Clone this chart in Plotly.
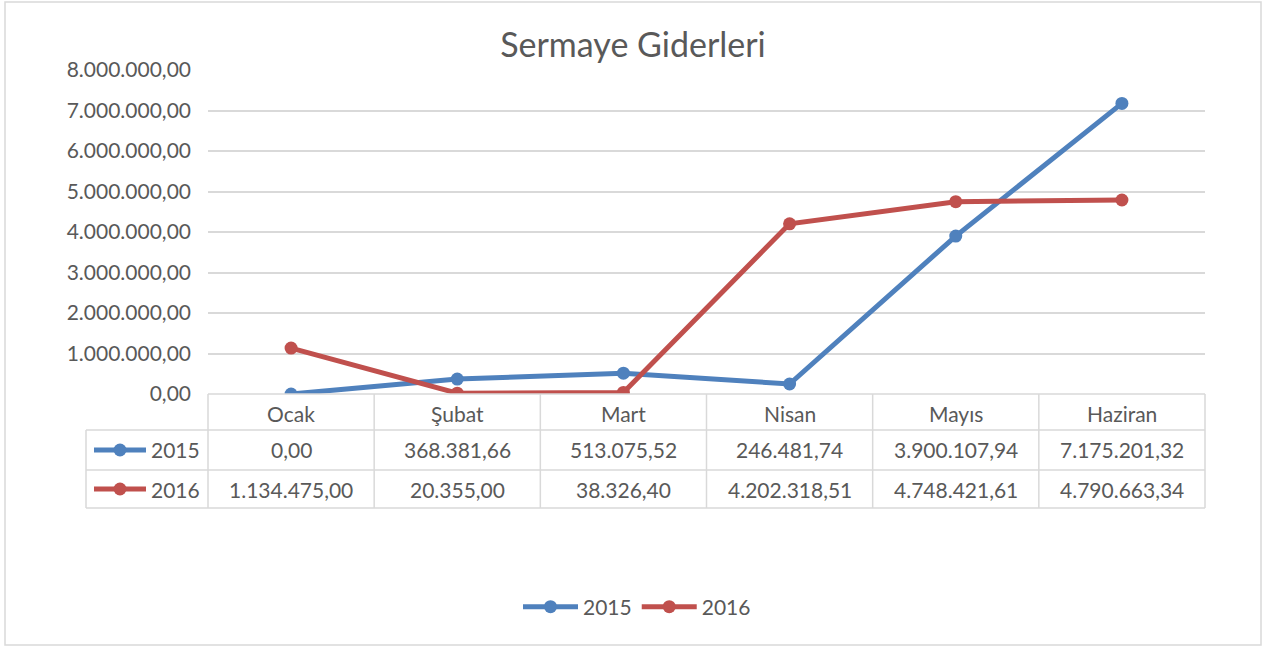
import plotly.graph_objects as go

months = ["Ocak", "Şubat", "Mart", "Nisan", "Mayıs", "Haziran"]
series_names = ["2015", "2016"]
values_2015 = [0.00, 368381.66, 513075.52, 246481.74, 3900107.94, 7175201.32]
values_2016 = [1134475.00, 20355.00, 38326.40, 4202318.51, 4748421.61, 4790663.34]
colors = ["#4F81BD", "#C0504D"]
y_ticks = [0, 1e6, 2e6, 3e6, 4e6, 5e6, 6e6, 7e6, 8e6]

W, H = 1274, 648
L, R, T, B = 208, 69, 70, 254
PW, PH = W - L - R, H - T - B
FONT = "Lato"
TXT = "#595959"
GRID = "#D9D9D9"
FS = 21


def fmt(v):
    s = f"{v:,.2f}"
    return s.replace(",", "X").replace(".", ",").replace("X", ".")


def px_x(px):
    return (px - L) / PW


def px_y(py):
    return (H - B - py) / PH


def cat_x(i):
    return (i + 0.5) / len(months)


fig = go.Figure()
for name, vals, c in zip(series_names, [values_2015, values_2016], colors):
    fig.add_trace(go.Scatter(x=months, y=vals, name=name, mode="lines+markers",
                             line=dict(color=c, width=5),
                             marker=dict(color=c, size=13)))

shapes = []
annotations = []
n = len(months)
hdr_top, r1_top, r2_top, r2_bot = 394, 430, 470, 508
left_px = 86
line_style = dict(color=GRID, width=1.5)
shapes.append(dict(type="line", xref="paper", yref="paper", x0=0, x1=1,
                   y0=px_y(hdr_top), y1=px_y(hdr_top), line=line_style))
for yy in [r1_top, r2_top, r2_bot]:
    shapes.append(dict(type="line", xref="paper", yref="paper", x0=px_x(left_px), x1=1,
                       y0=px_y(yy), y1=px_y(yy), line=line_style))
for i in range(n + 1):
    shapes.append(dict(type="line", xref="paper", yref="paper", x0=i / n, x1=i / n,
                       y0=px_y(hdr_top), y1=px_y(r2_bot), line=line_style))
shapes.append(dict(type="line", xref="paper", yref="paper", x0=px_x(left_px), x1=px_x(left_px),
                   y0=px_y(r1_top), y1=px_y(r2_bot), line=line_style))

for i, m in enumerate(months):
    annotations.append(dict(x=cat_x(i), y=px_y((hdr_top + r1_top) / 2 + 1), xref="paper", yref="paper",
                            xanchor="center", yanchor="middle",
                            text=m, showarrow=False, font=dict(family=FONT, size=FS, color=TXT)))
rows = [(r1_top, r2_top), (r2_top, r2_bot)]
for (top, bot), name, vals, c in zip(rows, series_names, [values_2015, values_2016], colors):
    yc = px_y((top + bot) / 2)
    for i, v in enumerate(vals):
        annotations.append(dict(x=cat_x(i), y=yc, xref="paper", yref="paper",
                                xanchor="center", yanchor="middle",
                                text=fmt(v), showarrow=False,
                                font=dict(family=FONT, size=FS, color=TXT)))
    annotations.append(dict(x=px_x(202), y=yc, xref="paper", yref="paper", xanchor="right",
                            yanchor="middle",
                            text=name, showarrow=False, font=dict(family=FONT, size=FS, color=TXT)))
    shapes.append(dict(type="line", xref="paper", yref="paper", x0=px_x(94), x1=px_x(146),
                       y0=yc, y1=yc, line=dict(color=c, width=5)))
    r = 6.5
    shapes.append(dict(type="circle", xref="paper", yref="paper",
                       x0=px_x(120 - r), x1=px_x(120 + r), y0=yc - r / PH, y1=yc + r / PH,
                       fillcolor=c, line=dict(color=c, width=0)))

shapes.append(dict(type="rect", xref="paper", yref="paper", x0=px_x(5), x1=px_x(1261),
                   y0=px_y(645), y1=px_y(2), line=dict(color=GRID, width=1.5), layer="below"))

fig.update_layout(
    width=W, height=H,
    margin=dict(l=L, r=R, t=T, b=B, autoexpand=False),
    paper_bgcolor="white", plot_bgcolor="white",
    separators=",.",
    title=dict(text="Sermaye Giderleri", x=633 / W, xanchor="center", y=1 - 45 / H, yanchor="middle",
               font=dict(family=FONT, size=34, color=TXT)),
    xaxis=dict(type="category", range=[-0.5, n - 0.5], showticklabels=False, showgrid=False,
               zeroline=False, showline=False, ticks=""),
    yaxis=dict(range=[0, 8e6], tickvals=y_ticks, tickformat=",.2f", showgrid=True, gridcolor=GRID,
               gridwidth=1.5, zeroline=False, showline=False, ticks="", ticklabelstandoff=16,
               tickfont=dict(family=FONT, size=FS, color=TXT)),
    legend=dict(orientation="h", x=px_x(637), xanchor="center", y=px_y(607), yanchor="middle",
                font=dict(family=FONT, size=FS, color=TXT), itemwidth=55),
    shapes=shapes, annotations=annotations,
)
fig.write_html("out.html", config={"displayModeBar": False},
               post_script="document.body.style.margin='0px';")
